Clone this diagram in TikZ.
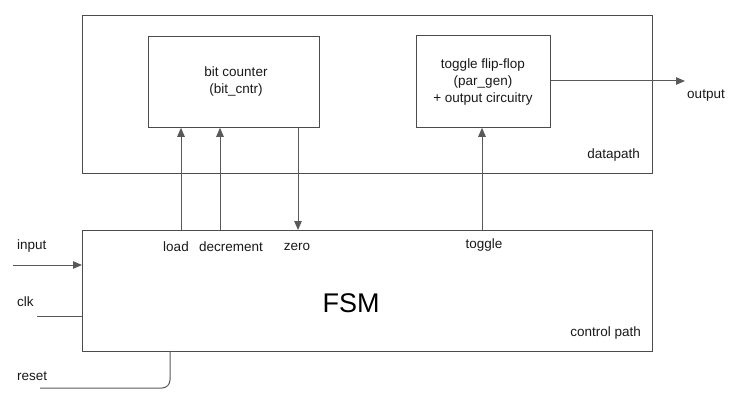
\documentclass[tikz,border=0pt]{standalone}
\usepackage{fontspec}
\setmainfont{Liberation Sans}
\usetikzlibrary{arrows.meta}

\tikzset{
  block/.style={draw=black!70, line width=0.8pt, inner sep=0pt, anchor=north west},
  sig/.style={draw=black!65, line width=1pt},
  sigarrow/.style={sig, -{Triangle[length=9pt,width=7.5pt]}},
  lbl/.style={font=\fontsize{13.5}{17}\selectfont, text=black!90, inner sep=1pt}
}

\begin{document}
\begin{tikzpicture}[x=1pt, y=-1pt]
  \useasboundingbox (0,0) rectangle (741,401);

  % outer boxes
  \node[block, minimum width=570pt, minimum height=158pt] (dp) at (82,15) {};
  \node[block, minimum width=570pt, minimum height=121pt] (fsm) at (82,230) {};

  % inner blocks
  \node[block, minimum width=171pt, minimum height=91pt] (cnt) at (148,36) {};
  \node[block, minimum width=134pt, minimum height=92pt] (tff) at (416,35) {};

  \node[lbl, align=center] (cntlbl) at (236,82) {bit counter\\(bit\_cntr)};
  \node[lbl, align=center] (tfflbl) at (483,82) {toggle flip-flop\\(par\_gen)\\+ output circuitry};

  \node[lbl, anchor=east] (dplbl) at (641,155) {datapath};
  \node[lbl, anchor=east] (cplbl) at (642,333) {control path};
  \node[font=\fontsize{27}{30}\selectfont, text=black] (fsmlbl) at (351,303) {FSM};

  % control signals
  \coordinate (ld) at (181,230);
  \coordinate (dec) at (220,230);
  \coordinate (zr) at (298,230);
  \coordinate (tg) at (482,230);

  \draw[sigarrow] (ld) -- (ld |- cnt.south);
  \draw[sigarrow] (dec) -- (dec |- cnt.south);
  \draw[sigarrow] (zr |- cnt.south) -- (zr);
  \draw[sigarrow] (tg) -- (tg |- tff.south);

  \node[lbl] (ldlbl) at (176,247) {load};
  \node[lbl] (declbl) at (231,247) {decrement};
  \node[lbl] (zrlbl) at (297,247) {zero};
  \node[lbl] (tglbl) at (484,245) {toggle};

  % output
  \coordinate (out) at (685,81);
  \draw[sigarrow] (tff.east |- out) -- (out);
  \node[lbl] (outlbl) at (706,96) {output};

  % inputs
  \coordinate (inp) at (13,265);
  \coordinate (clk) at (37,316);
  \coordinate (rst) at (40,388);
  \coordinate (rstpin) at (170,351);

  \draw[sigarrow] (inp) -- (fsm.west |- inp);
  \draw[sig] (clk) -- (fsm.west |- clk);
  \draw[sig, rounded corners=8pt] (rstpin) |- (rst);

  \node[lbl, anchor=west] (inplbl) at (16,246) {input};
  \node[lbl, anchor=west] (clklbl) at (16,302) {clk};
  \node[lbl, anchor=west] (rstlbl) at (16,376) {reset};
\end{tikzpicture}
\end{document}
